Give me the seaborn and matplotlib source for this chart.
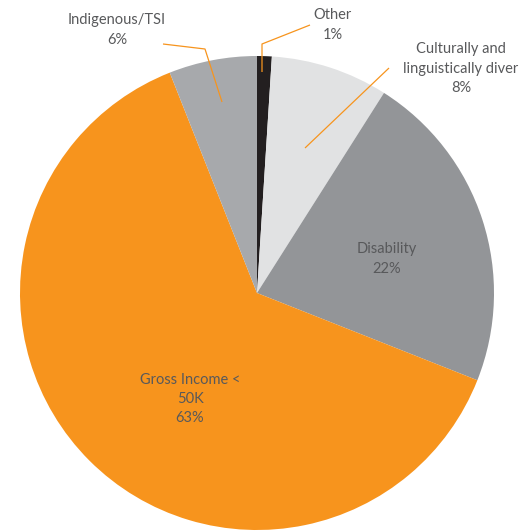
import matplotlib
matplotlib.use("Agg")
import matplotlib.pyplot as plt
import seaborn as sns

sns.set_theme(style="white")
plt.rcParams['font.family'] = ['Lato', 'DejaVu Sans']

categories = ["Other", "Culturally and\nlinguistically diver", "Disability",
              "Gross Income <\n50K", "Indigenous/TSI"]
values = [1, 8, 22, 63, 6]
pct_labels = ["1%", "8%", "22%", "63%", "6%"]
colors = ["#231f20", "#e1e2e3", "#939598", "#f7941d", "#a7a9ac"]

W, H = 521, 531
CX, CY, R = 257, 293, 237

def d(px, py):
    return ((px - CX) / R, (CY - py) / R)

fig = plt.figure(figsize=(W / 100, H / 100), dpi=100)
ax = fig.add_axes([0, 0, 1, 1])
ax.pie(values, colors=colors, startangle=90, counterclock=False,
       radius=1, center=(0, 0), wedgeprops=dict(linewidth=0))
x0, _ = d(0, 0); x1, _ = d(W, 0)
_, y0 = d(0, H); _, y1 = d(0, 0)
ax.set_xlim(x0, x1)
ax.set_ylim(y0, y1)
ax.set_aspect("auto")
ax.axis("off")

tc = "#58595b"
fs = 10.5
lab_pos = [(333, 25), (461, 69), (387, 259), (190, 399), (117, 30)]
for cat, pct, (px, py) in zip(categories, pct_labels, lab_pos):
    x, y = d(px, py)
    ax.text(x, y, f"{cat}\n{pct}", ha="center", va="center", fontsize=fs,
            color=tc, linespacing=1.5, multialignment="center")

lc = "#f7941d"
leaders = [
    [(262, 72), (262, 44), (310, 25)],
    [(305, 148), (389, 68)],
    [(222, 102), (205, 49), (163, 44)],
]
for pts in leaders:
    xs, ys = zip(*[d(*p) for p in pts])
    ax.plot(xs, ys, color=lc, lw=0.9, solid_capstyle="butt")

fig.savefig("out.png", dpi=100)
